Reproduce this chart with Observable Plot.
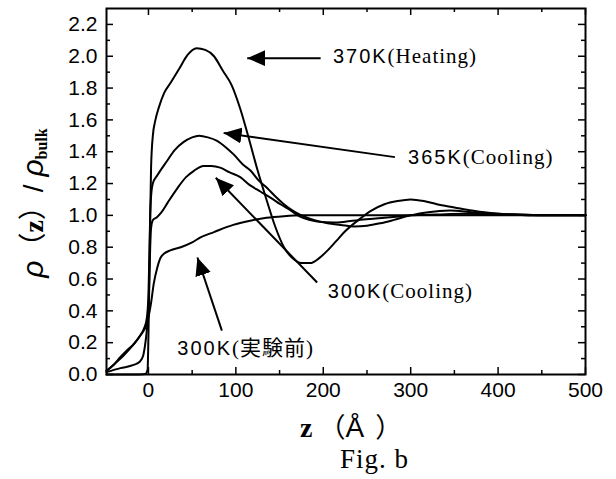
<!DOCTYPE html>
<html><head><meta charset="utf-8">
<script src="https://cdn.jsdelivr.net/npm/d3@7"></script>
<script src="https://cdn.jsdelivr.net/npm/@observablehq/plot@0.6"></script>
<style>html,body{margin:0;padding:0;background:#fff;overflow:hidden}</style>
</head><body><div id="chart"></div>
<script>
// ---- data ----
const z370 = [-48,-30,-15,-6,-3,-1,0,1,2,3,5,8,12,18,25,35,45,55,65,75,85,95,105,115,125,135,145,155,165,175,185,195,205,215,225,240,255,270,285,300,315,330,350,370,400,430,460,500];
const rho370 = [0,0,0,0.002,0.006,0.03,0.25,0.6,1.0,1.3,1.5,1.6,1.68,1.77,1.83,1.92,2.01,2.05,2.04,2.0,1.91,1.82,1.67,1.48,1.28,1.1,0.93,0.8,0.73,0.7,0.7,0.73,0.78,0.84,0.9,0.97,1.03,1.07,1.09,1.1,1.09,1.07,1.05,1.03,1.01,1.005,1.0,1.0];

const z365 = [-48,-40,-32,-25,-17,-10,-5,-2,0,1,2,3,5,10,21,30,40,50,58,68,78,88,98,108,117,126,136,145,155,165,175,190,205,220,235,250,265,280,300,320,345,370,400,440,500];
const rho365 = [0.02,0.06,0.1,0.14,0.19,0.24,0.29,0.35,0.5,0.75,1.0,1.12,1.2,1.25,1.34,1.41,1.46,1.49,1.5,1.49,1.47,1.43,1.38,1.32,1.28,1.22,1.17,1.12,1.07,1.03,1.0,0.97,0.95,0.94,0.93,0.935,0.95,0.97,1.0,1.02,1.03,1.02,1.01,1.0,1.0];

const z300c = [-48,-32,-17,-10,-6,-4,-2,0,1,2,3,5,10,15,22,33,43,52,63,72,82,93,105,116,128,140,151,163,174,185,195,212,225,240,260,280,300,330,360,400,450,500];
const rho300c = [0.015,0.04,0.06,0.08,0.12,0.18,0.27,0.42,0.6,0.8,0.92,0.97,0.99,1.02,1.08,1.17,1.24,1.28,1.31,1.31,1.3,1.27,1.24,1.19,1.15,1.11,1.07,1.03,0.99,0.97,0.96,0.955,0.96,0.97,0.98,0.99,1.0,1.005,1.01,1.005,1.0,1.0];

const z300b = [-48,-40,-32,-25,-17,-10,-5,-3,0,3,6,10,14,18,25,37,50,59,75,97,115,135,155,175,200,250,300,350,400,450,500];
const rho300b = [0.025,0.06,0.11,0.15,0.19,0.24,0.28,0.3,0.36,0.45,0.57,0.67,0.735,0.76,0.78,0.8,0.83,0.86,0.895,0.94,0.965,0.985,0.995,1.0,1.0,1.0,1.0,1.0,1.0,1.0,1.0];

const seriesNames = ["370K(Heating)", "365K(Cooling)", "300K(Cooling)", "300K(実験前)"];
const seriesZ = [z370, z365, z300c, z300b];
const seriesRho = [rho370, rho365, rho300c, rho300b];

// annotation labels
const labelPrefix = ["370K", "365K", "300K", "300K"];
const labelSuffix = ["(Heating)", "(Cooling)", "(Cooling)", "(実験前)"];
const labelZ = [211, 297, 205, 33];
const labelRho = [2.0, 1.366, 0.52, 0.163];

// arrows: tail -> tip
const arrowZ1 = [197, 282, 193, 84];
const arrowRho1 = [1.988, 1.366, 0.578, 0.276];
const arrowZ2 = [113, 86, 77, 56];
const arrowRho2 = [1.988, 1.518, 1.236, 0.735];

const xMajor = [0, 100, 200, 300, 400, 500];
const xMinor = [50, 150, 250, 350, 450];
const yMajor = [0, 0.2, 0.4, 0.6, 0.8, 1.0, 1.2, 1.4, 1.6, 1.8, 2.0, 2.2];
const yMinor = [0.1, 0.3, 0.5, 0.7, 0.9, 1.1, 1.3, 1.5, 1.7, 1.9, 2.1];

// ---- build ----
const rows = seriesNames.flatMap((name, k) => seriesZ[k].map((z, i) => ({series: name, z, rho: seriesRho[k][i]})));
const labels = labelPrefix.map((p, i) => ({p, s: labelSuffix[i], x: labelZ[i], y: labelRho[i]}));
const arrows = arrowZ1.map((x1, i) => ({x1, y1: arrowRho1[i], x2: arrowZ2[i], y2: arrowRho2[i]}));

const W = 616, H = 479;
const mL = 106, mR = 31, mT = 8, mB = 105;
const PW = W - mL - mR, PH = H - mT - mB;

const chart = Plot.plot({
  width: W, height: H,
  marginLeft: mL, marginRight: mR, marginTop: mT, marginBottom: mB,
  style: {fontFamily: "'Liberation Sans', Arial, sans-serif", fontSize: "21px", background: "white", color: "black"},
  x: {domain: [-48, 500], label: null},
  y: {domain: [0, 2.3], label: null},
  marks: [
    Plot.axisY(yMajor, {tickFormat: d3.format(".1f"), tickSize: 0, tickPadding: 9, fontSize: 21, label: null}),
    Plot.axisX(xMajor, {tickSize: 0, tickPadding: 8, fontSize: 21, label: null}),
    // inward ticks
    Plot.ruleY(yMajor, {insetRight: PW - 7, strokeWidth: 1.5}),
    Plot.ruleY(yMinor, {insetRight: PW - 4, strokeWidth: 1.5}),
    Plot.ruleY(yMajor, {insetLeft: PW - 7, strokeWidth: 1.5}),
    Plot.ruleY(yMinor, {insetLeft: PW - 4, strokeWidth: 1.5}),
    Plot.ruleX(xMajor, {insetTop: PH - 7, strokeWidth: 1.5}),
    Plot.ruleX(xMinor, {insetTop: PH - 4, strokeWidth: 1.5}),
    Plot.ruleX(xMajor, {insetBottom: PH - 7, strokeWidth: 1.5}),
    Plot.ruleX(xMinor, {insetBottom: PH - 4, strokeWidth: 1.5}),
    Plot.line(rows, {x: "z", y: "rho", z: "series", stroke: "black", strokeWidth: 2, curve: "monotone-x"}),
    Plot.link(arrows, {x1: "x1", y1: "y1", x2: "x2", y2: "y2", stroke: "black", strokeWidth: 2}),
    Plot.text(labels, {x: "x", y: "y", text: "p", textAnchor: "start", fontSize: 20, fontFamily: "'Liberation Sans', Arial, sans-serif"}),
    Plot.frame({strokeWidth: 2})
  ]
});
document.getElementById("chart").appendChild(chart);

const svg = d3.select(chart);
// suffixes as tspans continuing each label
svg.selectAll('g[aria-label="text"] text').each(function(d, i) {
  const t = d3.select(this);
  const txt = t.text();
  t.text(null);
  t.append("tspan").attr("letter-spacing", 2).text(txt);
  t.append("tspan").attr("font-size", 21).attr("letter-spacing", 1)
    .attr("font-family", "'Liberation Serif', 'Noto Sans CJK JP', serif").text(labels[i].s);
});

// filled triangular arrowheads
const defs = svg.append("defs");
defs.append("marker").attr("id", "tri").attr("viewBox", "0 0 18 16").attr("refX", 18).attr("refY", 8)
  .attr("markerWidth", 18).attr("markerHeight", 16).attr("markerUnits", "userSpaceOnUse").attr("orient", "auto")
  .append("path").attr("d", "M0,0L18,8L0,16Z").attr("fill", "black");
svg.selectAll('g[aria-label="link"] path, g[aria-label="link"] line').attr("marker-end", "url(#tri)");

// y-axis title
const yt = svg.append("text").attr("transform", "translate(43,203) rotate(-90)").attr("text-anchor", "middle").attr("fill", "black");
yt.append("tspan").attr("font-family", "'Liberation Sans', Arial, sans-serif").attr("font-style", "italic").attr("font-size", 30).text("ρ");
yt.append("tspan").attr("font-family", "'Noto Sans CJK JP', sans-serif").attr("font-size", 28).text("（");
yt.append("tspan").attr("font-family", "'Liberation Serif', serif").attr("font-weight", "bold").attr("font-size", 28).text("z");
yt.append("tspan").attr("font-family", "'Noto Sans CJK JP', sans-serif").attr("font-size", 28).text("）");
yt.append("tspan").attr("font-family", "'Liberation Sans', Arial, sans-serif").attr("font-size", 28).text("/ ");
yt.append("tspan").attr("font-family", "'Liberation Sans', Arial, sans-serif").attr("font-style", "italic").attr("font-size", 30).text("ρ");
yt.append("tspan").attr("font-family", "'Liberation Serif', serif").attr("font-weight", "bold").attr("font-size", 16).attr("dy", 4).text("bulk");

// x-axis title
const xt = svg.append("text").attr("x", 300).attr("y", 437).attr("text-anchor", "start").attr("fill", "black");
xt.append("tspan").attr("font-family", "'Liberation Serif', serif").attr("font-weight", "bold").attr("font-size", 28).text("z");
xt.append("tspan").attr("dx", 6).attr("font-family", "'Noto Sans CJK JP', sans-serif").attr("font-size", 27).text("（");
xt.append("tspan").attr("font-family", "'Liberation Sans', Arial, sans-serif").attr("font-size", 28).text("Å");
xt.append("tspan").attr("dx", 11).attr("font-family", "'Noto Sans CJK JP', sans-serif").attr("font-size", 27).text("）");

// caption
svg.append("text").attr("x", 340).attr("y", 468).attr("text-anchor", "start").attr("fill", "black")
  .attr("font-family", "'Liberation Serif', serif").attr("font-size", 27).attr("letter-spacing", 1).text("Fig. b");
</script>
</body></html>
